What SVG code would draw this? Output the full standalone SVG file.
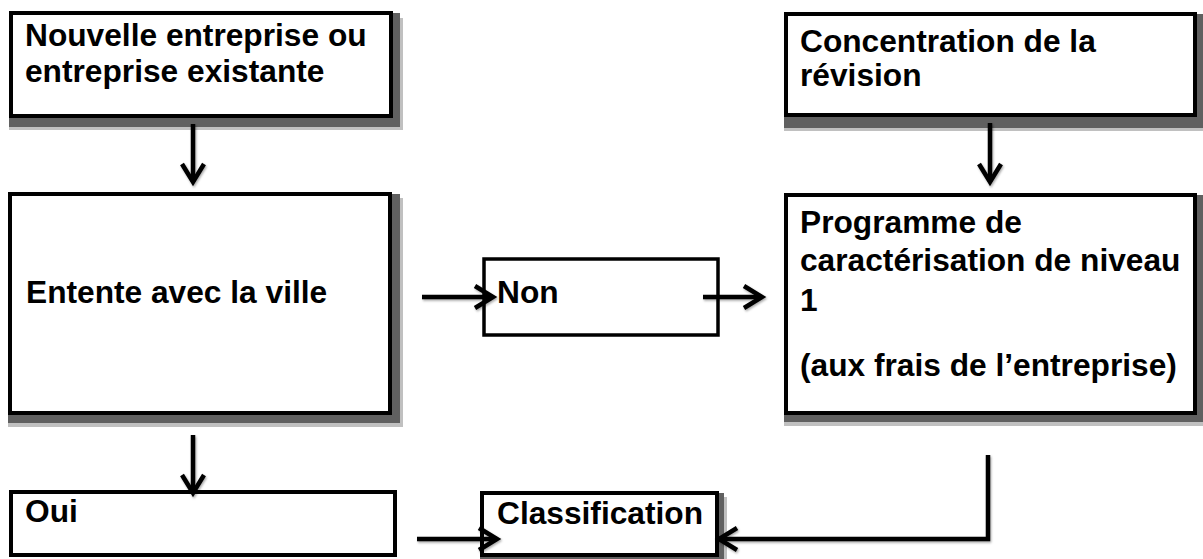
<svg xmlns="http://www.w3.org/2000/svg" width="1203" height="559" viewBox="0 0 1203 559">
<defs>
<style>
.box{fill:#fff;stroke:#000;stroke-width:4}
.sd{fill:#606060}
.sl{fill:#c0c0c0}
.t{font-family:"Liberation Sans",Arial,sans-serif;font-weight:bold;font-size:31.7px;fill:#000}
.c{fill:none;stroke:#000;stroke-width:4.5;marker-end:url(#ah)}
</style>
<marker id="ah" markerUnits="userSpaceOnUse" markerWidth="34" markerHeight="34" viewBox="-24 -17 29 34" refX="0" refY="0" orient="auto">
<path d="M-18,-11 L0,0 L-18,11" fill="none" stroke="#000" stroke-width="4.5" stroke-linejoin="miter"/>
</marker>
<filter id="ds" filterUnits="userSpaceOnUse" x="0" y="0" width="1203" height="559">
<feDropShadow dx="1" dy="1.5" stdDeviation="1.2" flood-color="#000" flood-opacity="0.35"/>
</filter>
</defs>
<g id="n1">
<rect class="sl" x="9" y="18" width="394" height="112"/>
<rect class="sd" x="9" y="13" width="391" height="114"/>
<rect class="box" x="11" y="13" width="380" height="103"/>
<text class="t" x="25" y="46">Nouvelle entreprise ou</text>
<text class="t" x="25" y="82">entreprise existante</text>
</g>
<g id="n2">
<rect class="sl" x="8" y="198" width="395" height="229"/>
<rect class="sd" x="8" y="194" width="392" height="229"/>
<rect class="box" x="10" y="194" width="380" height="219"/>
<text class="t" x="26" y="303">Entente avec la ville</text>
</g>
<g id="n3">
<rect class="box" x="484" y="259" width="234" height="76" style="stroke-width:3.5"/>
<text class="t" x="497" y="303">Non</text>
</g>
<g id="n4">
<rect class="sl" x="784" y="18" width="419" height="113"/>
<rect class="sd" x="784" y="14" width="419" height="114"/>
<rect class="box" x="786" y="14" width="409" height="101"/>
<text class="t" x="800" y="52">Concentration de la</text>
<text class="t" x="800" y="86">révision</text>
</g>
<g id="n5">
<rect class="sl" x="784" y="199" width="419" height="227"/>
<rect class="sd" x="784" y="195" width="419" height="227"/>
<rect class="box" x="786" y="195" width="409" height="218"/>
<text class="t" x="800" y="233">Programme de</text>
<text class="t" x="800" y="271">caractérisation de niveau</text>
<text class="t" x="800" y="311">1</text>
<text class="t" x="800" y="376">(aux frais de l’entreprise)</text>
</g>
<g id="n6">
<rect class="box" x="11" y="492" width="384" height="63"/>
<text class="t" x="25" y="522">Oui</text>
</g>
<g id="n7">
<rect class="sl" x="480" y="497" width="247" height="70"/>
<rect class="sd" x="480" y="493" width="244" height="70"/>
<rect class="box" x="482" y="493" width="235" height="62"/>
<text class="t" x="497" y="524">Classification</text>
</g>
<g id="connectors" filter="url(#ds)">
<path class="c" d="M193,124 L193,182"/>
<path class="c" d="M990,123 L990,182"/>
<path class="c" d="M422,297 L493,297"/>
<path class="c" d="M703,297 L762,297"/>
<path class="c" d="M193,435 L193,493"/>
<path class="c" d="M417,539 L497,539"/>
<path class="c" d="M988,455 L988,539 L719,539"/>
</g>
</svg>
